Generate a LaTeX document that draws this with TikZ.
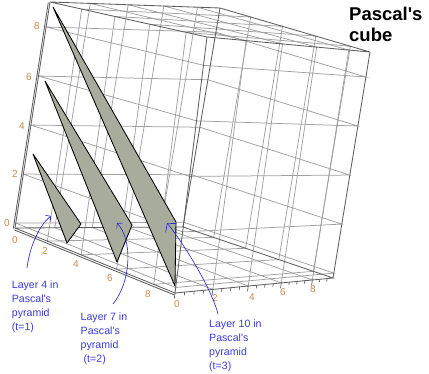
\documentclass[tikz,border=0pt]{standalone}
\usepackage{fontspec}
\setmainfont{Liberation Sans}[Ligatures=TeXOff]
\usetikzlibrary{arrows.meta}
\definecolor{gridc}{RGB}{160,160,160}
\definecolor{edgec}{RGB}{95,95,95}
\definecolor{tickc}{RGB}{200,140,80}
\definecolor{notec}{RGB}{60,60,215}
\definecolor{arrc}{RGB}{45,45,205}
\definecolor{facec}{RGB}{168,172,156}
\newcommand\uvw[3]{({projx(#1,#2,#3)},{projy(#1,#2,#3)})}
\begin{document}
\begin{tikzpicture}[x=1pt,y=-1pt,
  declare function={
    projh(\pu,\pv,\pw)=1-0.10*\pu+0.15*\pv;
    projx(\pu,\pv,\pw)=((1-\pu)*(1-\pv)*(1-\pw)*1.00*15 + \pu*(1-\pv)*(1-\pw)*0.90*175
      + (1-\pu)*\pv*(1-\pw)*1.15*183 + \pu*\pv*(1-\pw)*1.05*333
      + (1-\pu)*(1-\pv)*\pw*1.00*50 + \pu*(1-\pv)*\pw*0.90*207
      + (1-\pu)*\pv*\pw*1.15*220 + \pu*\pv*\pw*1.05*370)/projh(\pu,\pv,\pw);
    projy(\pu,\pv,\pw)=((1-\pu)*(1-\pv)*(1-\pw)*1.00*228 + \pu*(1-\pv)*(1-\pw)*0.90*293
      + (1-\pu)*\pv*(1-\pw)*1.15*227 + \pu*\pv*(1-\pw)*1.05*278
      + (1-\pu)*(1-\pv)*\pw*1.00*2 + \pu*(1-\pv)*\pw*0.90*37
      + (1-\pu)*\pv*\pw*1.15*8 + \pu*\pv*\pw*1.05*52)/projh(\pu,\pv,\pw);
  },
  gridline/.style={draw=gridc, line width=0.75pt},
  boxedge/.style={draw=edgec, line width=0.85pt},
  tickline/.style={draw=edgec, line width=0.7pt},
  ticklab/.style={text=tickc, font=\fontsize{10}{12}\selectfont, inner sep=0pt, anchor=center},
  layer/.style={fill=facec, draw=black, line width=0.85pt, line join=round},
  note/.style={text=notec, font=\fontsize{10.6}{14}\selectfont, align=left, inner sep=0pt, anchor=north west},
  notearrow/.style={draw=arrc, line width=0.65pt, -{Straight Barb[length=3.5pt,width=8pt]}},
  bignotearrow/.style={draw=arrc, line width=0.65pt, -{Straight Barb[length=6pt,width=14pt]}},
  title/.style={font=\fontsize{18.5}{21}\selectfont\bfseries, align=left, inner sep=0pt, anchor=north west}
]
\useasboundingbox (0,0) rectangle (429,373);
\fill[white] (0,0) rectangle (429,373);

% face grids
\foreach \zz in {0,2,4,6,8}{
  \pgfmathsetmacro\gw{(\zz+0.2)/9.22}
  \draw[gridline] \uvw{0}{0}{\gw} -- \uvw{1}{0}{\gw} -- \uvw{1}{1}{\gw} -- \uvw{0}{1}{\gw} -- cycle;
}
\foreach \xx in {2,4,6,8}{
  \pgfmathsetmacro\gu{\xx/9.1}
  \draw[gridline] \uvw{\gu}{0}{0} -- \uvw{\gu}{1}{0} -- \uvw{\gu}{1}{1} -- \uvw{\gu}{0}{1} -- cycle;
}
\foreach \yy in {2,4,6,8}{
  \pgfmathsetmacro\gv{\yy/9.4}
  \draw[gridline] \uvw{0}{\gv}{0} -- \uvw{1}{\gv}{0} -- \uvw{1}{\gv}{1} -- \uvw{0}{\gv}{1} -- cycle;
}

% box corners
\coordinate (BL) at (15,228);
\coordinate (BF) at (175,293);
\coordinate (BB) at (183,227);
\coordinate (BR) at (333,278);
\coordinate (TL) at (50,2);
\coordinate (TF) at (207,37);
\coordinate (TB) at (220,8);
\coordinate (TR) at (370,52);
\draw[boxedge] (BL) -- (BF) -- (BR) -- (BB) -- cycle;
\draw[boxedge] (TL) -- (TF) -- (TR) -- (TB) -- cycle;
\draw[boxedge] (BL) -- (TL);
\draw[boxedge] (BF) -- (TF);
\draw[boxedge] (BR) -- (TR);
\draw[boxedge] (BB) -- (TB);

% axis lines doubling the z and x edges
\coordinate (zaxA) at (13.3,228.5);
\coordinate (zaxB) at (48.3,2.5);
\coordinate (xaxA) at (14.5,230);
\coordinate (xaxB) at (174.5,295);
\draw[boxedge] (zaxA) -- (zaxB);
\draw[boxedge] (xaxA) -- (xaxB);

% ticks on the y axis
\foreach \t in {0,0.5,...,9}{
  \pgfmathsetmacro\tl{ifthenelse(mod(round(2*\t),4)==0,0.022,0.013)}
  \draw[tickline] \uvw{1}{\t/9.4}{0} -- \uvw{1}{\t/9.4}{-\tl};
}

% tick labels
\node[ticklab] (z0) at (7,223) {0};
\node[ticklab] (z2) at (15,174) {2};
\node[ticklab] (z4) at (22,126) {4};
\node[ticklab] (z6) at (29,77) {6};
\node[ticklab] (z8) at (37,26) {8};
\node[ticklab] (x0) at (15,240) {0};
\node[ticklab] (x2) at (45,251) {2};
\node[ticklab] (x4) at (76,264) {4};
\node[ticklab] (x6) at (110,278) {6};
\node[ticklab] (x8) at (148,294) {8};
\node[ticklab] (y0) at (177,304) {0};
\node[ticklab] (y2) at (215,298) {2};
\node[ticklab] (y4) at (252,297) {4};
\node[ticklab] (y6) at (283,292) {6};
\node[ticklab] (y8) at (313,289) {8};

% layers of Pascal's pyramid
\coordinate (A1) at (33,154);
\coordinate (R1) at (81,224);
\coordinate (B1) at (67,243);
\coordinate (A2) at (45,81);
\coordinate (R2) at (132,225);
\coordinate (B2) at (117,262);
\coordinate (A3) at (53,7);
\coordinate (R3) at (176,222);
\coordinate (B3) at (175,286);
\draw[layer] (A1) -- (R1) -- (B1) -- cycle;
\draw[layer] (A2) -- (R2) -- (B2) -- cycle;
\draw[layer] (A3) -- (R3) -- (B3) -- cycle;

% title
\node[title] (ttl) at (349,6.8) {Pascal's\\cube};

% annotations
\node[note] (n1) at (11.7,280.5) {Layer 4 in\\Pascal's\\pyramid\\(t=1)};
\node[note] (n2) at (80.5,312.5) {Layer 7 in\\Pascal's\\pyramid\\\hspace*{3pt}(t=2)};
\node[note] (n3) at (209,319.8) {Layer 10 in\\Pascal's\\pyramid\\(t=3)};

\coordinate (s1) at (27,268);
\coordinate (e1) at (51,216);
\coordinate (s2) at (113,304);
\coordinate (e2) at (117,223);
\coordinate (s3) at (218,314);
\coordinate (e3) at (167,223);
\draw[notearrow] (s1) .. controls (29,250) and (38,226) .. (e1);
\draw[notearrow] (s2) .. controls (131,282) and (133,240) .. (e2);
\draw[bignotearrow] (s3) .. controls (212,290) and (185,245) .. (e3);
\end{tikzpicture}
\end{document}
